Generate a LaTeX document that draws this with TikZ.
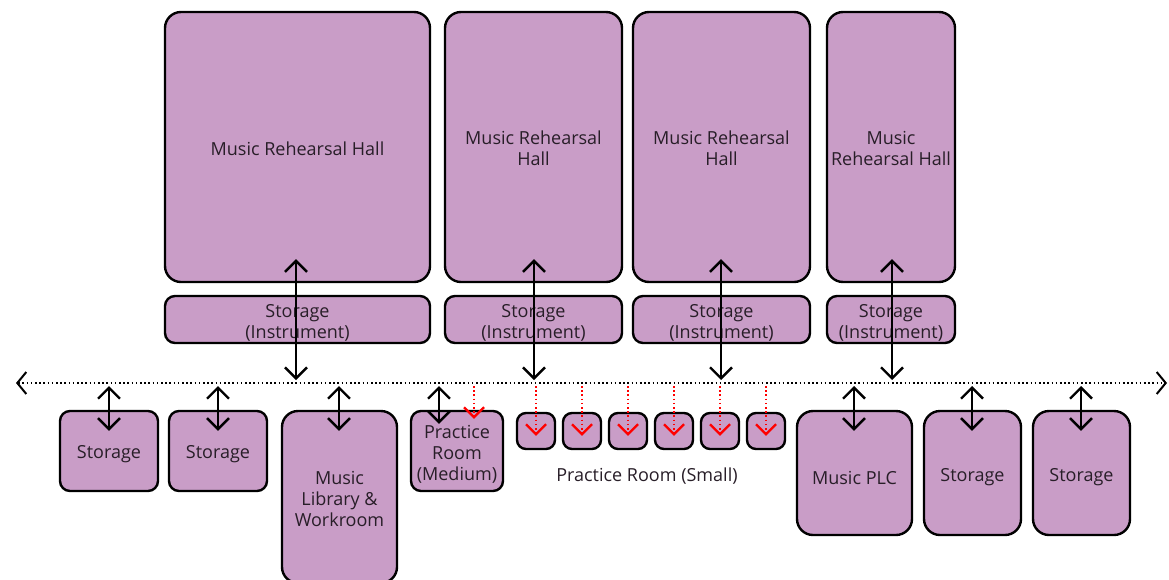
\documentclass[tikz,border=0pt]{standalone}
\usepackage{fontspec}
\setmainfont{Open Sans}
\usetikzlibrary{arrows.meta}
\definecolor{roomfill}{RGB}{201,157,199}
\definecolor{txt}{RGB}{40,30,40}
\tikzset{
  room/.style={draw=black, fill=roomfill, line width=2.4pt, rounded corners=16pt, inner sep=0pt},
  smallroom/.style={room, rounded corners=10pt},
  dbl/.style={line width=2.4pt, {Straight Barb[length=11pt,width=22pt]}-{Straight Barb[length=11pt,width=22pt]}},
  bus/.style={line width=2pt, dash pattern=on 1.6pt off 2.6pt, {Straight Barb[length=9pt,width=22pt,line width=2pt,sep=-1pt]}-{Straight Barb[length=9pt,width=22pt,line width=2pt,sep=-1pt]}},
  redarr/.style={red, line width=2pt, dash pattern=on 1.6pt off 2.6pt, -{Straight Barb[length=10pt,width=20pt,line width=2.2pt]}},
  lbl/.style={font=\fontsize{18}{21}\selectfont, text=txt, align=center, inner sep=0pt}
}
\begin{document}
\begin{tikzpicture}[x=1pt,y=-1pt]
\useasboundingbox (0,0) rectangle (1169,579);
% halls
\node[room, minimum width=265pt, minimum height=270pt] (h1) at (297.5,147) {};
\node[lbl] at (297.5,149) {Music Rehearsal Hall};
\node[room, minimum width=177pt, minimum height=270pt] (h2) at (533.5,147) {};
\node[lbl] at (533.5,148) {Music Rehearsal\\Hall};
\node[room, minimum width=177pt, minimum height=270pt] (h3) at (721.5,147) {};
\node[lbl] at (721.5,148) {Music Rehearsal\\Hall};
\node[room, minimum width=128pt, minimum height=270pt] (h4) at (891,147) {};
\node[lbl] at (891,148) {Music\\Rehearsal Hall};
% instrument storage
\node[smallroom, minimum width=265pt, minimum height=47pt] (s1) at (297.5,319.5) {};
\node[lbl] at (297.5,323) {Storage\\(Instrument)};
\node[smallroom, minimum width=177pt, minimum height=47pt] (s2) at (533.5,319.5) {};
\node[lbl] at (533.5,323) {Storage\\(Instrument)};
\node[smallroom, minimum width=177pt, minimum height=47pt] (s3) at (721.5,319.5) {};
\node[lbl] at (721.5,323) {Storage\\(Instrument)};
\node[smallroom, minimum width=128pt, minimum height=47pt] (s4) at (891,319.5) {};
\node[lbl] at (891,323) {Storage\\(Instrument)};
% bus
\coordinate (bl) at (17,383);
\coordinate (br) at (1166,383);
\draw[bus] (bl) -- (br);
% bottom rooms
\node[smallroom, minimum width=98pt, minimum height=80pt] (b1) at (109,451) {};
\node[lbl] at (109,454) {Storage};
\node[smallroom, minimum width=98pt, minimum height=80pt] (b2) at (218,451) {};
\node[lbl] at (218,454) {Storage};
\node[room, minimum width=115pt, minimum height=172pt] (lib) at (339.5,497) {};
\node[lbl] at (339.5,499) {Music\\Library \&\\Workroom};
\node[smallroom, minimum width=92pt, minimum height=80pt] (pm) at (457,451) {};
\node[lbl] at (457,454) {Practice\\Room\\(Medium)};
\foreach \i/\x in {1/536,2/582,3/628,4/674,5/720,6/766}{
  \node[smallroom, minimum width=38pt, minimum height=36pt, rounded corners=9pt] (ps\i) at (\x,431) {};
}
\node[lbl] (pslbl) at (647,476) {Practice Room (Small)};
\node[room, minimum width=115pt, minimum height=124pt] (plc) at (854.5,473) {};
\node[lbl] at (854.5,478) {Music PLC};
\node[room, minimum width=97pt, minimum height=124pt] (b3) at (972.5,473) {};
\node[lbl] at (972.5,477) {Storage};
\node[room, minimum width=97pt, minimum height=124pt] (b4) at (1081.5,473) {};
\node[lbl] at (1081.5,477) {Storage};
% bus taps
\foreach \n/\x in {t1/296,t2/534,t3/721,t4/892,u1/109,u2/218,u3/339,u4/439,u5/854,u6/972,u7/1081,r0/474,r1/536,r2/582,r3/628,r4/674,r5/720,r6/766}{
  \coordinate (\n) at (\x,383);
}
% hall arrows
\draw[dbl] ([yshift=24pt]h1.south -| t1) -- ([yshift=3pt]t1);
\draw[dbl] ([yshift=24pt]h2.south -| t2) -- ([yshift=3pt]t2);
\draw[dbl] ([yshift=24pt]h3.south -| t3) -- ([yshift=3pt]t3);
\draw[dbl] ([yshift=24pt]h4.south -| t4) -- ([yshift=3pt]t4);
% bottom arrows
\draw[dbl] ([yshift=-3pt]u1) -- ([yshift=-21pt]b1.north -| u1);
\draw[dbl] ([yshift=-3pt]u2) -- ([yshift=-21pt]b2.north -| u2);
\draw[dbl] ([yshift=-3pt]u3) -- ([yshift=-21pt]lib.north -| u3);
\draw[dbl] ([yshift=-3pt]u4) -- ([yshift=-14pt]pm.north -| u4);
\draw[dbl] ([yshift=-3pt]u5) -- ([yshift=-21pt]plc.north -| u5);
\draw[dbl] ([yshift=-3pt]u6) -- ([yshift=-21pt]b3.north -| u6);
\draw[dbl] ([yshift=-3pt]u7) -- ([yshift=-21pt]b4.north -| u7);
% red arrows
\draw[redarr] ([yshift=-3pt]r0) -- ([yshift=-9pt]pm.north -| r0);
\foreach \i in {1,...,6}{
  \draw[redarr] ([yshift=-3pt]r\i) -- ([yshift=-24pt]ps\i.north -| r\i);
}
\end{tikzpicture}
\end{document}
